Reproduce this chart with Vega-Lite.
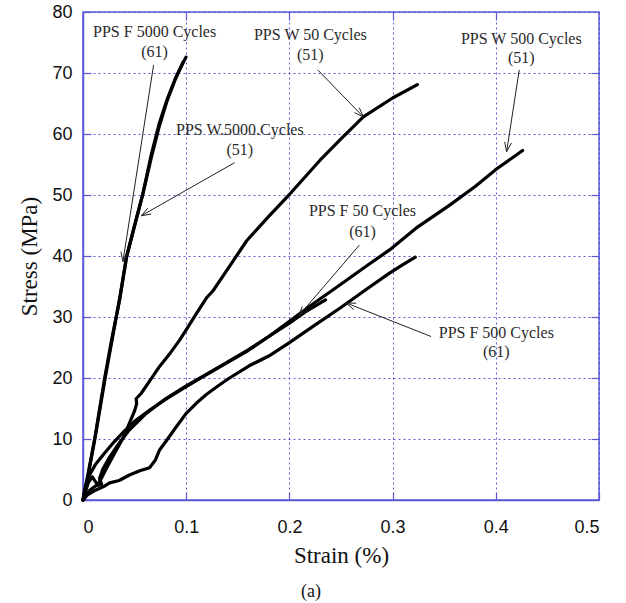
{
  "$schema": "https://vega.github.io/schema/vega-lite/v6.json",
  "width": 516,
  "height": 488,
  "autosize": {"type": "none"},
  "padding": {"left": 83, "top": 12, "right": 27, "bottom": 103},
  "background": "white",
  "config": {
    "view": {"stroke": "#5a5ad6", "strokeWidth": 1.5},
    "axis": {
      "labelFont": "Liberation Sans",
      "labelFontSize": 18,
      "labelColor": "#111",
      "titleFont": "Liberation Serif",
      "titleFontSize": 23,
      "titleFontWeight": "normal",
      "titleColor": "#111",
      "gridColor": "#4a4ad0",
      "gridDash": [2, 3],
      "gridWidth": 1,
      "gridOpacity": 0.9,
      "domainColor": "#5a5ad6",
      "domainWidth": 1.5,
      "tickColor": "#5a5ad6",
      "tickWidth": 1.2
    }
  },
  "title": {
    "text": "(a)",
    "orient": "bottom",
    "anchor": "middle",
    "font": "Liberation Serif",
    "fontSize": 18,
    "fontWeight": "normal",
    "color": "#111",
    "offset": 16,
    "dx": -30
  },
  "datasets": {
    "curves": [
      {"s": "PPS F 5000", "x": 0, "y": 0},
      {"s": "PPS F 5000", "x": 0.004, "y": 3.5},
      {"s": "PPS F 5000", "x": 0.0113, "y": 10},
      {"s": "PPS F 5000", "x": 0.021, "y": 20},
      {"s": "PPS F 5000", "x": 0.028, "y": 26.5},
      {"s": "PPS F 5000", "x": 0.0355, "y": 32.8},
      {"s": "PPS F 5000", "x": 0.042, "y": 39.8},
      {"s": "PPS F 5000", "x": 0.05, "y": 45},
      {"s": "PPS F 5000", "x": 0.058, "y": 50.2},
      {"s": "PPS F 5000", "x": 0.066, "y": 56.5},
      {"s": "PPS F 5000", "x": 0.074, "y": 61.8},
      {"s": "PPS F 5000", "x": 0.082, "y": 65.9},
      {"s": "PPS F 5000", "x": 0.09, "y": 69.3},
      {"s": "PPS F 5000", "x": 0.0998, "y": 72.6},

      {"s": "PPS W 5000", "x": 0, "y": 0},
      {"s": "PPS W 5000", "x": 0.005, "y": 4},
      {"s": "PPS W 5000", "x": 0.012, "y": 10.5},
      {"s": "PPS W 5000", "x": 0.022, "y": 20.5},
      {"s": "PPS W 5000", "x": 0.029, "y": 27},
      {"s": "PPS W 5000", "x": 0.036, "y": 33.5},
      {"s": "PPS W 5000", "x": 0.0425, "y": 40},
      {"s": "PPS W 5000", "x": 0.0505, "y": 45.3},
      {"s": "PPS W 5000", "x": 0.0585, "y": 50.5},
      {"s": "PPS W 5000", "x": 0.066, "y": 56},
      {"s": "PPS W 5000", "x": 0.0735, "y": 61},
      {"s": "PPS W 5000", "x": 0.081, "y": 65.2},
      {"s": "PPS W 5000", "x": 0.089, "y": 68.8},
      {"s": "PPS W 5000", "x": 0.097, "y": 71.8},

      {"s": "PPS W 50", "x": 0, "y": 0},
      {"s": "PPS W 50", "x": 0.005, "y": 2.8},
      {"s": "PPS W 50", "x": 0.009, "y": 3.8},
      {"s": "PPS W 50", "x": 0.014, "y": 2.5},
      {"s": "PPS W 50", "x": 0.0165, "y": 3.1},
      {"s": "PPS W 50", "x": 0.023, "y": 5.3},
      {"s": "PPS W 50", "x": 0.031, "y": 7.8},
      {"s": "PPS W 50", "x": 0.039, "y": 10.2},
      {"s": "PPS W 50", "x": 0.045, "y": 12.6},
      {"s": "PPS W 50", "x": 0.05, "y": 14.6},
      {"s": "PPS W 50", "x": 0.052, "y": 15.8},
      {"s": "PPS W 50", "x": 0.0515, "y": 16.6},
      {"s": "PPS W 50", "x": 0.0565, "y": 17.5},
      {"s": "PPS W 50", "x": 0.065, "y": 19.6},
      {"s": "PPS W 50", "x": 0.0742, "y": 21.9},
      {"s": "PPS W 50", "x": 0.085, "y": 24.2},
      {"s": "PPS W 50", "x": 0.0936, "y": 26.2},
      {"s": "PPS W 50", "x": 0.1, "y": 27.9},
      {"s": "PPS W 50", "x": 0.11, "y": 30.6},
      {"s": "PPS W 50", "x": 0.12, "y": 33.2},
      {"s": "PPS W 50", "x": 0.126, "y": 34.3},
      {"s": "PPS W 50", "x": 0.14, "y": 37.8},
      {"s": "PPS W 50", "x": 0.1586, "y": 42.5},
      {"s": "PPS W 50", "x": 0.18, "y": 46.5},
      {"s": "PPS W 50", "x": 0.2006, "y": 50.2},
      {"s": "PPS W 50", "x": 0.2297, "y": 55.7},
      {"s": "PPS W 50", "x": 0.25, "y": 59.2},
      {"s": "PPS W 50", "x": 0.2716, "y": 62.8},
      {"s": "PPS W 50", "x": 0.3, "y": 65.9},
      {"s": "PPS W 50", "x": 0.324, "y": 68.1},

      {"s": "PPS W 500", "x": 0, "y": 0},
      {"s": "PPS W 500", "x": 0.006, "y": 1.5},
      {"s": "PPS W 500", "x": 0.012, "y": 2.3},
      {"s": "PPS W 500", "x": 0.018, "y": 2.6},
      {"s": "PPS W 500", "x": 0.016, "y": 3.5},
      {"s": "PPS W 500", "x": 0.019, "y": 5},
      {"s": "PPS W 500", "x": 0.025, "y": 6.8},
      {"s": "PPS W 500", "x": 0.035, "y": 9.3},
      {"s": "PPS W 500", "x": 0.045, "y": 11.5},
      {"s": "PPS W 500", "x": 0.06, "y": 14},
      {"s": "PPS W 500", "x": 0.08, "y": 16.6},
      {"s": "PPS W 500", "x": 0.1, "y": 18.7},
      {"s": "PPS W 500", "x": 0.13, "y": 21.6},
      {"s": "PPS W 500", "x": 0.16, "y": 24.5},
      {"s": "PPS W 500", "x": 0.18, "y": 26.8},
      {"s": "PPS W 500", "x": 0.2, "y": 29.3},
      {"s": "PPS W 500", "x": 0.22, "y": 31.8},
      {"s": "PPS W 500", "x": 0.2485, "y": 35.2},
      {"s": "PPS W 500", "x": 0.275, "y": 38.4},
      {"s": "PPS W 500", "x": 0.297, "y": 41},
      {"s": "PPS W 500", "x": 0.323, "y": 44.6},
      {"s": "PPS W 500", "x": 0.355, "y": 48.3},
      {"s": "PPS W 500", "x": 0.38, "y": 51.4},
      {"s": "PPS W 500", "x": 0.401, "y": 54.3},
      {"s": "PPS W 500", "x": 0.426, "y": 57.3},

      {"s": "PPS F 50", "x": 0, "y": 0},
      {"s": "PPS F 50", "x": 0.002, "y": 2},
      {"s": "PPS F 50", "x": 0.006, "y": 4},
      {"s": "PPS F 50", "x": 0.012, "y": 5.8},
      {"s": "PPS F 50", "x": 0.02, "y": 7.5},
      {"s": "PPS F 50", "x": 0.03, "y": 9.5},
      {"s": "PPS F 50", "x": 0.04, "y": 11.3},
      {"s": "PPS F 50", "x": 0.05, "y": 12.9},
      {"s": "PPS F 50", "x": 0.065, "y": 14.8},
      {"s": "PPS F 50", "x": 0.08, "y": 16.5},
      {"s": "PPS F 50", "x": 0.1, "y": 18.6},
      {"s": "PPS F 50", "x": 0.12, "y": 20.6},
      {"s": "PPS F 50", "x": 0.14, "y": 22.6},
      {"s": "PPS F 50", "x": 0.16, "y": 24.6},
      {"s": "PPS F 50", "x": 0.18, "y": 26.8},
      {"s": "PPS F 50", "x": 0.2, "y": 29},
      {"s": "PPS F 50", "x": 0.215, "y": 30.8},
      {"s": "PPS F 50", "x": 0.235, "y": 32.8},

      {"s": "PPS F 500", "x": 0, "y": 0},
      {"s": "PPS F 500", "x": 0.004, "y": 0.8},
      {"s": "PPS F 500", "x": 0.012, "y": 1.6},
      {"s": "PPS F 500", "x": 0.02, "y": 2.2},
      {"s": "PPS F 500", "x": 0.0258, "y": 2.8},
      {"s": "PPS F 500", "x": 0.035, "y": 3.2},
      {"s": "PPS F 500", "x": 0.045, "y": 4.1},
      {"s": "PPS F 500", "x": 0.055, "y": 4.8},
      {"s": "PPS F 500", "x": 0.0645, "y": 5.3},
      {"s": "PPS F 500", "x": 0.07, "y": 6.5},
      {"s": "PPS F 500", "x": 0.0742, "y": 8.2},
      {"s": "PPS F 500", "x": 0.082, "y": 10},
      {"s": "PPS F 500", "x": 0.0904, "y": 12},
      {"s": "PPS F 500", "x": 0.1, "y": 14.2},
      {"s": "PPS F 500", "x": 0.11, "y": 15.9},
      {"s": "PPS F 500", "x": 0.1195, "y": 17.3},
      {"s": "PPS F 500", "x": 0.13, "y": 18.6},
      {"s": "PPS F 500", "x": 0.142, "y": 20},
      {"s": "PPS F 500", "x": 0.161, "y": 22},
      {"s": "PPS F 500", "x": 0.18, "y": 23.6},
      {"s": "PPS F 500", "x": 0.2, "y": 25.8},
      {"s": "PPS F 500", "x": 0.225, "y": 28.7},
      {"s": "PPS F 500", "x": 0.2485, "y": 31.4},
      {"s": "PPS F 500", "x": 0.275, "y": 34.6},
      {"s": "PPS F 500", "x": 0.297, "y": 37.2},
      {"s": "PPS F 500", "x": 0.31, "y": 38.6},
      {"s": "PPS F 500", "x": 0.322, "y": 39.8}
    ],
    "arrows": [
      {"a": "F5000", "x": 0.0684, "y": 71.3, "x2": 0.0387, "y2": 39.1},
      {"a": "F5000", "x": 0.0387, "y": 39.1, "x2": 0.0368, "y2": 40.71},
      {"a": "F5000", "x": 0.0387, "y": 39.1, "x2": 0.0434, "y2": 40.54},
      {"a": "W5000", "x": 0.1469, "y": 55.3, "x2": 0.0565, "y2": 46.6},
      {"a": "W5000", "x": 0.0565, "y": 46.6, "x2": 0.0628, "y2": 47.85},
      {"a": "W5000", "x": 0.0565, "y": 46.6, "x2": 0.0661, "y2": 46.87},
      {"a": "W50", "x": 0.2275, "y": 70.5, "x2": 0.2717, "y2": 62.8},
      {"a": "W50", "x": 0.2717, "y": 62.8, "x2": 0.263, "y2": 63.51},
      {"a": "W50", "x": 0.2717, "y": 62.8, "x2": 0.2677, "y2": 64.3},
      {"a": "W500", "x": 0.4227, "y": 70.5, "x2": 0.4105, "y2": 57.1},
      {"a": "W500", "x": 0.4105, "y": 57.1, "x2": 0.4086, "y2": 58.71},
      {"a": "W500", "x": 0.4105, "y": 57.1, "x2": 0.4152, "y2": 58.54},
      {"a": "F50", "x": 0.2679, "y": 41.8, "x2": 0.2091, "y2": 30.2},
      {"a": "F50", "x": 0.2091, "y": 30.2, "x2": 0.2125, "y2": 31.73},
      {"a": "F50", "x": 0.2091, "y": 30.2, "x2": 0.2175, "y2": 31.0},
      {"a": "F500", "x": 0.3373, "y": 26.8, "x2": 0.255, "y2": 32.3},
      {"a": "F500", "x": 0.255, "y": 32.3, "x2": 0.2647, "y2": 32.26},
      {"a": "F500", "x": 0.255, "y": 32.3, "x2": 0.2623, "y2": 31.21}
    ],
    "labels": [
      {"t": "PPS F 5000 Cycles", "x": 0.0694, "y": 76.8},
      {"t": "(61)", "x": 0.0694, "y": 73.5},
      {"t": "PPS W 50 Cycles", "x": 0.2203, "y": 76.2},
      {"t": "(51)", "x": 0.2203, "y": 73.0},
      {"t": "PPS W.5000.Cycles", "x": 0.152, "y": 60.7},
      {"t": "(51)", "x": 0.152, "y": 57.4},
      {"t": "PPS W 500 Cycles", "x": 0.4247, "y": 75.5},
      {"t": "(51)", "x": 0.4247, "y": 72.4},
      {"t": "PPS F 50 Cycles", "x": 0.2708, "y": 47.3},
      {"t": "(61)", "x": 0.2708, "y": 44.0},
      {"t": "PPS F 500 Cycles", "x": 0.4005, "y": 27.3},
      {"t": "(61)", "x": 0.4005, "y": 24.3}
    ]
  },
  "resolve": {"axis": {"x": "independent", "y": "independent"}},
  "layer": [
    {
      "data": {"name": "curves"},
      "mark": {"type": "line", "color": "black", "strokeWidth": 3.2, "strokeJoin": "round", "strokeCap": "round"},
      "encoding": {
        "x": {
          "field": "x", "type": "quantitative",
          "scale": {"domain": [0, 0.5], "nice": false, "zero": false},
          "axis": {
            "values": [0, 0.1, 0.2, 0.3, 0.4, 0.5],
            "format": "~g",
            "title": "Strain (%)",
            "grid": true,
            "ticks": true,
            "tickSize": -8,
            "labelPadding": 26,
            "titlePadding": 8
          }
        },
        "y": {
          "field": "y", "type": "quantitative",
          "scale": {"domain": [0, 80], "nice": false},
          "axis": {
            "values": [0, 10, 20, 30, 40, 50, 60, 70, 80],
            "title": "Stress (MPa)",
            "grid": true,
            "ticks": true,
            "tickSize": -8,
            "labelPadding": 19,
            "titlePadding": 10
          }
        },
        "detail": {"field": "s"},
        "order": {"value": null}
      }
    },
    {
      "data": {"name": "arrows"},
      "mark": {"type": "rule", "color": "#222", "strokeWidth": 1},
      "encoding": {
        "x": {"field": "x", "type": "quantitative", "axis": null},
        "y": {"field": "y", "type": "quantitative", "axis": null},
        "x2": {"field": "x2"},
        "y2": {"field": "y2"}
      }
    },
    {
      "data": {"name": "labels"},
      "mark": {"type": "text", "font": "Liberation Serif", "fontSize": 16, "color": "#2a2a2a", "align": "center", "baseline": "middle"},
      "encoding": {
        "x": {
          "field": "x", "type": "quantitative",
          "axis": {"orient": "top", "values": [0.1, 0.2, 0.3, 0.4], "labels": false, "title": null, "grid": false, "domain": false, "ticks": true, "tickSize": -8}
        },
        "y": {
          "field": "y", "type": "quantitative",
          "axis": {"orient": "right", "values": [10, 20, 30, 40, 50, 60, 70], "labels": false, "title": null, "grid": false, "domain": false, "ticks": true, "tickSize": -8}
        },
        "text": {"field": "t"}
      }
    }
  ]
}
